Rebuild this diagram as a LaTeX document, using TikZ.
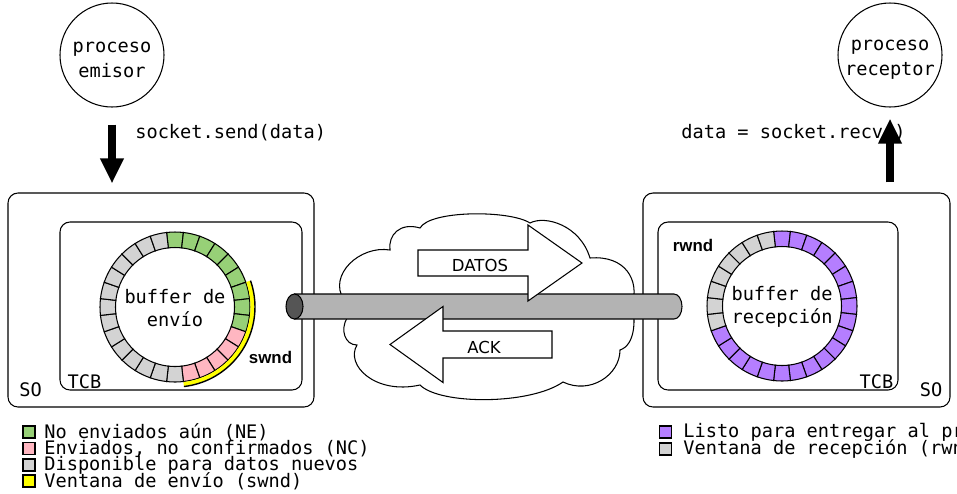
\documentclass[tikz,border=0pt]{standalone}
\usepackage{fontspec}
\setmonofont{DejaVu Sans Mono}
\setsansfont{DejaVu Sans}
\newfontfamily\wndfont{Liberation Sans}
\usepackage{tikz}
\usetikzlibrary{arrows.meta,positioning}
\usepackage{xcolor}
\definecolor{ne}{HTML}{97D077}
\definecolor{nc}{HTML}{FFB6C1}
\definecolor{libre}{HTML}{D3D3D3}
\definecolor{ventana}{HTML}{FFFF00}
\definecolor{listo}{HTML}{B57EFF}
\definecolor{tubo}{HTML}{B3B3B3}
\definecolor{tapa}{HTML}{555555}

\tikzset{
  mono/.style={font=\ttfamily\fontsize{10.6}{14}\selectfont, inner sep=0pt},
  proc/.style={circle, draw, line width=0.6pt, minimum size=2.08cm},
  sobox/.style={draw, line width=0.6pt, rounded corners=0.2cm, minimum width=6.12cm, minimum height=4.28cm},
  tcbbox/.style={draw, line width=0.6pt, rounded corners=0.2cm, minimum width=4.84cm, minimum height=3.36cm},
  bigarrow/.style={line width=5pt, -{Triangle[width=0.44cm,length=0.5cm]}},
  wnd/.style={font=\wndfont\bfseries\fontsize{9.6}{11}\selectfont, inner sep=0pt},
  flecha/.style={font=\sffamily\fontsize{9.4}{11}\selectfont, inner sep=0pt},
  legsq/.style={draw, line width=0.6pt, minimum size=0.24cm, inner sep=0pt},
  seg/.style={draw=black, line width=0.6pt}
}

\begin{document}
\begin{tikzpicture}
  \useasboundingbox (0,0) rectangle (19.14,-9.86);

  % procesos
  \node[proc] (emisor) at (2.24,-1.1) {};
  \node[mono, align=center] (emisortxt) at (2.24,-1.2) {proceso\\emisor};
  \node[proc] (receptor) at (17.8,-1.1) {};
  \node[mono, align=center] (receptortxt) at (17.8,-1.2) {proceso\\receptor};

  % sistemas operativos
  \node[sobox] (so1) at (3.22,-6.0) {};
  \node[tcbbox] (tcb1) at (3.62,-6.12) {};
  \node[sobox, minimum width=6.14cm] (so2) at (15.93,-6.0) {};
  \node[tcbbox, minimum width=4.8cm] (tcb2) at (15.56,-6.12) {};
  \node[mono] (so1lbl) at (0.61,-7.8) {SO};
  \node[mono] (tcb1lbl) at (1.69,-7.64) {TCB};
  \node[mono] (so2lbl) at (18.62,-7.8) {SO};
  \node[mono] (tcb2lbl) at (17.53,-7.64) {TCB};

  % buffer de envio
  \begin{scope}[shift={(3.5,-6.14)}]
    \foreach \first/\last/\col in {0/8/ne, 9/13/nc, 14/27/libre}
      \foreach \k in {\first,...,\last} {
        \pgfmathsetmacro\aa{90-(\k-0.5)*360/28}
        \pgfmathsetmacro\ab{90-(\k+0.5)*360/28}
        \filldraw[seg, fill=\col] (\aa:1.5) arc[start angle=\aa, end angle=\ab, radius=1.5]
          -- (\ab:1.19) arc[start angle=\ab, end angle=\aa, radius=1.19] -- cycle;
      }
    \fill[ventana] (19.29:1.51) arc[start angle=19.29, end angle=-83.57, radius=1.51]
      -- (-83.57:1.59) arc[start angle=-83.57, end angle=19.29, radius=1.59] -- cycle;
    \draw[line width=0.8pt] (19.29:1.6) arc[start angle=19.29, end angle=-83.57, radius=1.6];
  \end{scope}
  \node[mono, align=center, font=\ttfamily\fontsize{10.6}{13}\selectfont] (bufenv) at (3.5,-6.16) {buffer de\\envío};
  \node[wnd] (swnd) at (5.41,-7.14) {swnd};

  % buffer de recepcion
  \begin{scope}[shift={(15.64,-6.12)}]
    \foreach \first/\last/\col in {0/19/listo, 20/27/libre}
      \foreach \k in {\first,...,\last} {
        \pgfmathsetmacro\aa{90-(\k-0.5)*360/28}
        \pgfmathsetmacro\ab{90-(\k+0.5)*360/28}
        \filldraw[seg, fill=\col] (\aa:1.5) arc[start angle=\aa, end angle=\ab, radius=1.5]
          -- (\ab:1.19) arc[start angle=\ab, end angle=\aa, radius=1.19] -- cycle;
      }
  \end{scope}
  \node[mono, align=center, font=\ttfamily\fontsize{10.6}{13}\selectfont] (bufrec) at (15.64,-6.14) {buffer de\\recepción};
  \node[wnd] (rwnd) at (13.86,-4.9) {rwnd};

  % red
  \filldraw[fill=white, line width=0.6pt] (6.94,-6.36)
    .. controls (6.8,-6.6) and (6.9,-6.9) .. (7.14,-6.9)
    .. controls (6.9,-7.3) and (7.5,-7.9) .. (8.4,-7.7)
    .. controls (8.8,-8.1) and (10.6,-8.1) .. (11.26,-7.64)
    .. controls (11.8,-7.9) and (12.4,-7.5) .. (12.4,-7.0)
    .. controls (12.7,-6.9) and (12.72,-6.4) .. (12.64,-6.1)
    .. controls (12.8,-5.6) and (12.5,-5.1) .. (11.8,-5.16)
    .. controls (11.6,-4.5) and (10.9,-4.3) .. (10.6,-4.46)
    .. controls (10.2,-4.2) and (8.6,-4.2) .. (8.4,-4.56)
    .. controls (8.0,-4.44) and (7.76,-4.7) .. (7.8,-5.0)
    .. controls (7.2,-4.9) and (6.55,-5.5) .. (6.88,-6.0) -- cycle;

  % tubo
  \filldraw[fill=tubo, line width=0.6pt] (5.89,-5.88) -- (13.48,-5.88)
    arc[start angle=90, end angle=-90, x radius=0.16, y radius=0.25] -- (5.89,-6.38) -- cycle;
  \filldraw[fill=tapa, line width=0.6pt] (5.89,-6.13) ellipse[x radius=0.17, y radius=0.25];

  % DATOS y ACK
  \filldraw[fill=white, line width=0.6pt] (8.36,-5.0) -- (10.56,-5.0) -- (10.56,-4.5) -- (11.64,-5.26)
    -- (10.56,-6.02) -- (10.56,-5.52) -- (8.36,-5.52) -- cycle;
  \node[flecha] (datos) at (9.6,-5.3) {DATOS};
  \filldraw[fill=white, line width=0.6pt] (11.04,-6.62) -- (8.86,-6.62) -- (8.86,-6.13) -- (7.8,-6.89)
    -- (8.86,-7.65) -- (8.86,-7.16) -- (11.04,-7.16) -- cycle;
  \node[flecha] (ack) at (9.68,-6.94) {ACK};

  % llamadas
  \node[mono, anchor=west] (send) at (2.7,-2.66) {socket.send(data)};
  \node[mono, anchor=west] (recv) at (13.62,-2.66) {data = socket.recv()};
  \draw[bigarrow] ([yshift=-0.34cm]emisor.south) -- ([yshift=0.18cm]so1.north -| emisor);
  \draw[bigarrow] ([yshift=0.2cm]so2.north -| receptor) -- ([yshift=-0.22cm]receptor.south);

  % leyendas
  \node[legsq, fill=ne] (sq1) at (0.58,-8.64) {};
  \node[mono, right=0.17cm of sq1] (ley1) {No enviados aún (NE)};
  \node[legsq, fill=nc] (sq2) at (0.58,-8.97) {};
  \node[mono, right=0.17cm of sq2] (ley2) {Enviados, no confirmados (NC)};
  \node[legsq, fill=libre] (sq3) at (0.58,-9.30) {};
  \node[mono, right=0.17cm of sq3] (ley3) {Disponible para datos nuevos};
  \node[legsq, fill=ventana] (sq4) at (0.58,-9.62) {};
  \node[mono, right=0.17cm of sq4] (ley4) {Ventana de envío (swnd)};
  \node[legsq, fill=listo] (sq5) at (13.31,-8.64) {};
  \node[mono, right=0.22cm of sq5] (ley5) {Listo para entregar al proceso};
  \node[legsq, fill=libre] (sq6) at (13.31,-8.98) {};
  \node[mono, right=0.22cm of sq6] (ley6) {Ventana de recepción (rwnd)};
\end{tikzpicture}
\end{document}
